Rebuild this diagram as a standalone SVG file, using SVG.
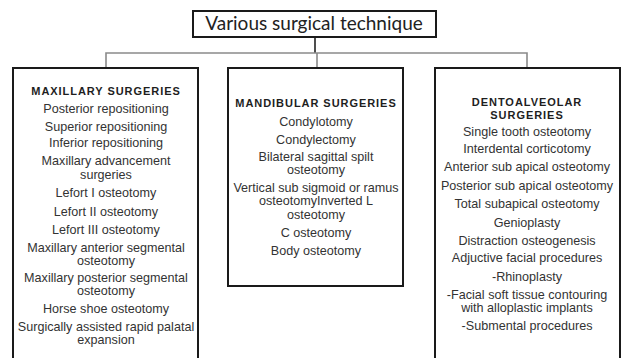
<svg xmlns="http://www.w3.org/2000/svg" width="622" height="358" viewBox="0 0 622 358">
<style>
.box{fill:#fff;stroke:#1a1a1a;stroke-width:2}
.conn{fill:none;stroke:#8a8a8a;stroke-width:1.6}
.dark{fill:none;stroke:#222;stroke-width:1.6}
.t{font-family:"Liberation Sans",Arial,sans-serif;font-size:12.6px;fill:#333;text-anchor:middle}
.h{font-family:"Liberation Sans",Arial,sans-serif;font-size:11px;font-weight:bold;fill:#1e1e1e;text-anchor:middle;letter-spacing:0.95px}
.title{font-family:Lato,"Open Sans",sans-serif;font-size:19px;fill:#222;text-anchor:middle}
</style>
<rect width="622" height="358" fill="#fff"/>
<g id="connectors">
<path class="dark" d="M315 37 V53"/>
<path class="conn" d="M106 68 V53 H527 V68 M317 53 V68"/>
</g>
<g id="root">
<rect class="box" x="193" y="11" width="243" height="26"/>
<text class="title" x="314" y="30">Various surgical technique</text>
</g>
<g id="maxillary">
<rect class="box" x="13" y="68" width="185" height="310"/>
<text class="h" x="106" y="95">MAXILLARY SURGERIES</text>
<text class="t" x="106" y="113">Posterior repositioning</text>
<text class="t" x="106" y="131">Superior repositioning</text>
<text class="t" x="106" y="147">Inferior repositioning</text>
<text class="t" x="106" y="165">Maxillary advancement</text>
<text class="t" x="106" y="179">surgeries</text>
<text class="t" x="106" y="197">Lefort I osteotomy</text>
<text class="t" x="106" y="216">Lefort II osteotomy</text>
<text class="t" x="106" y="234">Lefort III osteotomy</text>
<text class="t" x="106" y="252">Maxillary anterior segmental</text>
<text class="t" x="106" y="265">osteotomy</text>
<text class="t" x="106" y="282">Maxillary posterior segmental</text>
<text class="t" x="106" y="295">osteotomy</text>
<text class="t" x="106" y="313">Horse shoe osteotomy</text>
<text class="t" x="106" y="331">Surgically assisted rapid palatal</text>
<text class="t" x="106" y="344">expansion</text>
</g>
<g id="mandibular">
<rect class="box" x="228" y="68" width="175" height="218"/>
<text class="h" x="316" y="107">MANDIBULAR SURGERIES</text>
<text class="t" x="316" y="126">Condylotomy</text>
<text class="t" x="316" y="144">Condylectomy</text>
<text class="t" x="316" y="161">Bilateral sagittal spilt</text>
<text class="t" x="316" y="174">osteotomy</text>
<text class="t" x="316" y="192">Vertical sub sigmoid or ramus</text>
<text class="t" x="316" y="205">osteotomyInverted L</text>
<text class="t" x="316" y="219">osteotomy</text>
<text class="t" x="316" y="237">C osteotomy</text>
<text class="t" x="316" y="255">Body osteotomy</text>
</g>
<g id="dentoalveolar">
<rect class="box" x="435" y="68" width="185" height="310"/>
<text class="h" x="527" y="106">DENTOALVEOLAR</text>
<text class="h" x="527" y="119">SURGERIES</text>
<text class="t" x="527" y="136">Single tooth osteotomy</text>
<text class="t" x="527" y="153">Interdental corticotomy</text>
<text class="t" x="527" y="171">Anterior sub apical osteotomy</text>
<text class="t" x="527" y="190">Posterior sub apical osteotomy</text>
<text class="t" x="527" y="208">Total subapical osteotomy</text>
<text class="t" x="527" y="227">Genioplasty</text>
<text class="t" x="527" y="245">Distraction osteogenesis</text>
<text class="t" x="527" y="262">Adjuctive facial procedures</text>
<text class="t" x="527" y="281">-Rhinoplasty</text>
<text class="t" x="527" y="299">-Facial soft tissue contouring</text>
<text class="t" x="527" y="312">with alloplastic implants</text>
<text class="t" x="527" y="330">-Submental procedures</text>
</g>
</svg>
